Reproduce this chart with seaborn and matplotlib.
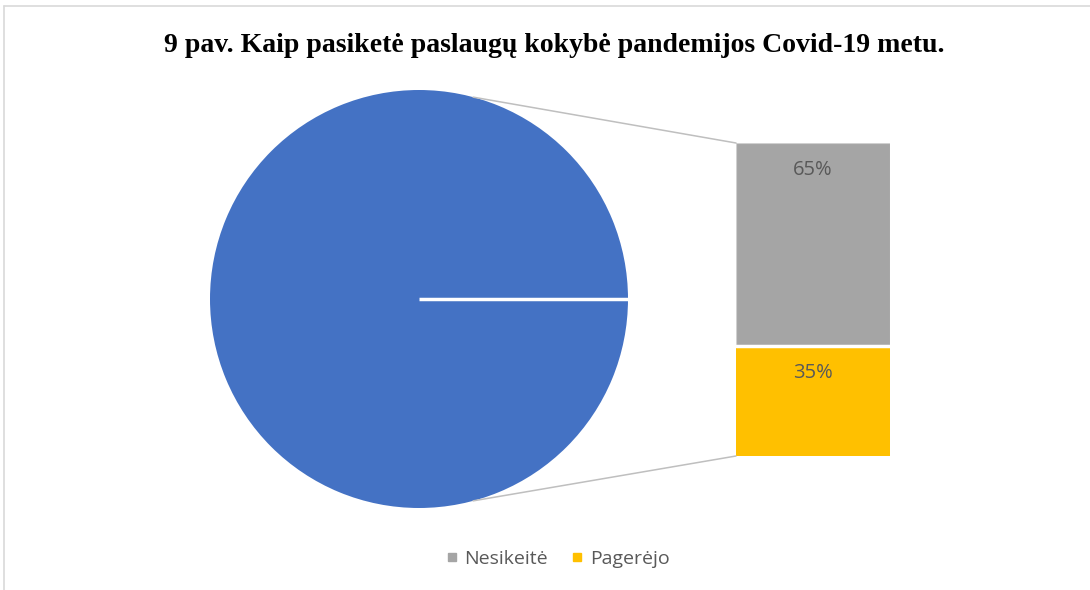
import numpy as np
import pandas as pd
import matplotlib
matplotlib.use("Agg")
import matplotlib.pyplot as plt
from matplotlib.patches import ConnectionPatch
from matplotlib.lines import Line2D
import seaborn as sns

# ---- data ----
title = "9 pav. Kaip pasiketė paslaugų kokybė pandemijos Covid-19 metu."
pie_labels = ["Kita"]
pie_values = [100]
bar_labels = ["Nesikeitė", "Pagerėjo"]
bar_values = [65, 35]
bar_colors = ["#A5A5A5", "#FFC000"]
pie_color = "#4472C4"

sns.set_theme(style="white")
plt.rcParams["font.family"] = ["Open Sans", "DejaVu Sans"]

fig = plt.figure(figsize=(10.9, 5.9), dpi=100)
fig.patch.set_facecolor("white")

# frame (top and left only, as in reference)
fig.add_artist(Line2D([4/1090, 1], [1-6/590, 1-6/590], color="#D9D9D9", lw=1.2))
fig.add_artist(Line2D([4/1090, 4/1090], [0, 1-6/590], color="#D9D9D9", lw=1.2))

# title
fig.text(554/1090, 1-45/590, title, ha="center", va="center",
         fontfamily="Liberation Serif", fontweight="bold", fontsize=20, color="black")

# ---- pie ----
axp = fig.add_axes([(419-209)/1090, (590-299-209)/590, 418/1090, 418/590])
axp.pie(pie_values, colors=[pie_color], startangle=0, radius=1,
        wedgeprops=dict(edgecolor="none"))
axp.plot([0, 1], [0, 0], color="white", lw=2.5, solid_capstyle="butt")
axp.set_xlim(-1, 1)
axp.set_ylim(-1, 1)
axp.set_aspect("equal")
axp.axis("off")

# ---- stacked bar ----
axb = fig.add_axes([736/1090, (590-456)/590, 154/1090, 313/590])
df = pd.DataFrame({"cat": ["x"], "total": [sum(bar_values)], "bottom": [bar_values[1]]})
sns.barplot(data=df, x="cat", y="total", color=bar_colors[0], saturation=1,
            width=1, ax=axb, edgecolor="#D0D0D0", linewidth=0.8)
sns.barplot(data=df, x="cat", y="bottom", color=bar_colors[1], saturation=1,
            width=1, ax=axb, edgecolor="none", linewidth=0)
axb.axhline(bar_values[1], color="white", lw=2.5)
axb.set_xlim(-0.5, 0.5)
axb.set_ylim(0, sum(bar_values))
axb.axis("off")

tops = [sum(bar_values), bar_values[1]]
for lab_val, top in zip(bar_values, tops):
    axb.annotate(f"{lab_val}%", xy=(0, top), xytext=(0, -12), textcoords="offset points",
                 ha="center", va="top", fontsize=14.5, color="#595959")

# ---- connectors ----
ang = np.deg2rad(75)
for sgn, yb in [(1, sum(bar_values)), (-1, 0)]:
    con = ConnectionPatch(xyA=(np.cos(ang), sgn*np.sin(ang)), coordsA=axp.transData,
                          xyB=(-0.5, yb), coordsB=axb.transData,
                          color="#BFBFBF", lw=1.1)
    fig.add_artist(con)

# ---- legend ----
handles = [Line2D([0], [0], marker="s", linestyle="none", markersize=6,
                  markerfacecolor=c, markeredgecolor=c) for c in bar_colors]
fig.legend(handles, bar_labels, loc="center", bbox_to_anchor=(556/1090, 1-559/590),
           ncol=2, frameon=False, fontsize=14, labelcolor="#595959",
           handletextpad=0.15, columnspacing=1.0, handlelength=1.0)

fig.savefig("out.png", dpi=100, facecolor="white")
